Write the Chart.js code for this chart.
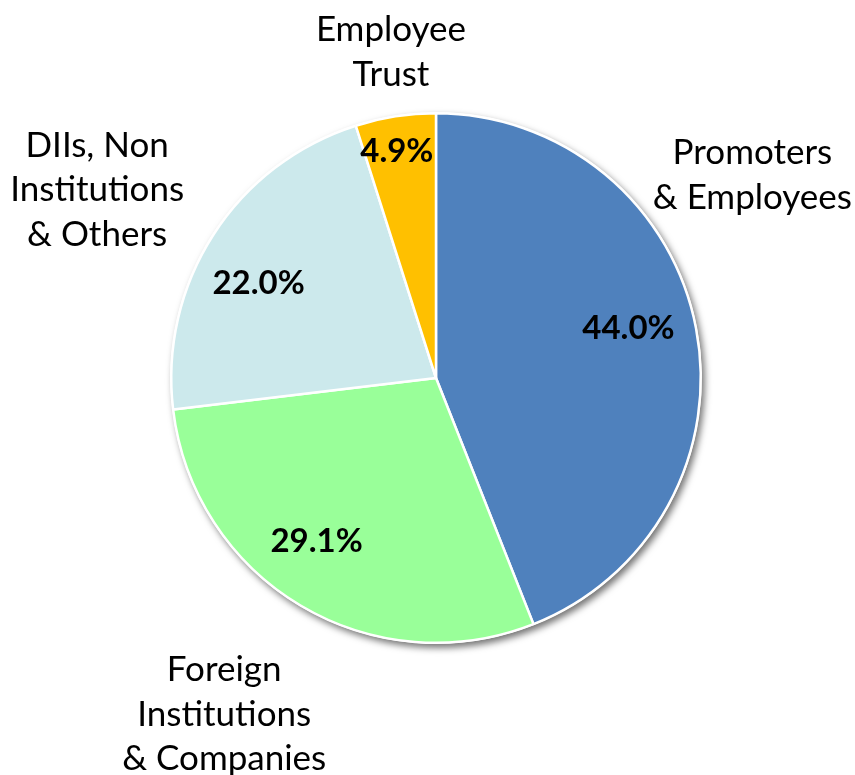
<!DOCTYPE html>
<html>
<head>
<meta charset="utf-8">
<script src="https://cdn.jsdelivr.net/npm/chart.js@4.4.1/dist/chart.umd.min.js"></script>
<style>
  html, body { margin: 0; padding: 0; background: #fff; }
  #wrap { width: 855px; height: 775px; }
</style>
</head>
<body>
<div id="wrap"><canvas id="myChart" width="855" height="775"></canvas></div>
<script>
// Shareholding split, clockwise from 12 o'clock
const labels = [
    ['Promoters', '& Employees'],
    ['Foreign', 'Institutions', '& Companies'],
    ['DIIs, Non', 'Institutions', '& Others'],
    ['Employee', 'Trust']
];
const shares = [44.0, 29.1, 22.0, 4.9];
const colors = ['#4F81BD', '#99FF99', '#CCE9EC', '#FFC000'];

// label offsets from the pie centre, in units of the radius
const namePos = [[1.195, -0.765], [-0.80, 1.27], [-1.28, -0.71], [-0.17, -1.23]];
const pctPos = [[0.727, -0.189], [-0.451, 0.617], [-0.670, -0.356], [-0.148, -0.856]];

const FONT = 'Lato, "DejaVu Sans", sans-serif';

// white disc with a soft drop shadow behind the slices
const shadowPlugin = {
    id: 'pieShadow',
    beforeDatasetsDraw(chart) {
        const arc = chart.getDatasetMeta(0).data[0];
        const ctx = chart.ctx;
        ctx.save();
        ctx.shadowColor = 'rgba(0,0,0,0.55)';
        ctx.shadowBlur = 7;
        ctx.shadowOffsetX = 3;
        ctx.shadowOffsetY = 4;
        ctx.fillStyle = '#fff';
        ctx.beginPath();
        ctx.arc(arc.x, arc.y, arc.outerRadius + 1, 0, Math.PI * 2);
        ctx.fill();
        ctx.restore();
    }
};

const labelPlugin = {
    id: 'pieLabels',
    afterDatasetsDraw(chart) {
        const ctx = chart.ctx;
        const meta = chart.getDatasetMeta(0);
        ctx.save();
        ctx.textAlign = 'center';
        ctx.textBaseline = 'middle';
        ctx.fillStyle = '#000';
        meta.data.forEach((arc, i) => {
            const r = arc.outerRadius;
            // percentage inside the slice
            ctx.font = 'bold 33px ' + FONT;
            ctx.fillText(shares[i].toFixed(1) + '%',
                arc.x + pctPos[i][0] * r,
                arc.y + pctPos[i][1] * r);
            // category name outside
            ctx.font = '35px ' + FONT;
            const lines = labels[i];
            const lh = 44.5;
            const cx = arc.x + namePos[i][0] * r;
            const cy = arc.y + namePos[i][1] * r;
            lines.forEach((t, k) => {
                ctx.fillText(t, cx, cy + (k - (lines.length - 1) / 2) * lh);
            });
        });
        ctx.restore();
    }
};

new Chart(document.getElementById('myChart').getContext('2d'), {
    type: 'pie',
    data: {
        labels: labels.map(l => l.join(' ')),
        datasets: [{
            data: shares,
            backgroundColor: colors,
            borderColor: '#fff',
            borderWidth: 2.5
        }]
    },
    options: {
        responsive: false,
        animation: false,
        layout: { padding: { left: 170, right: 153, top: 112, bottom: 131 } },
        plugins: {
            legend: { display: false },
            tooltip: { enabled: false }
        }
    },
    plugins: [shadowPlugin, labelPlugin]
});
</script>
</body>
</html>
